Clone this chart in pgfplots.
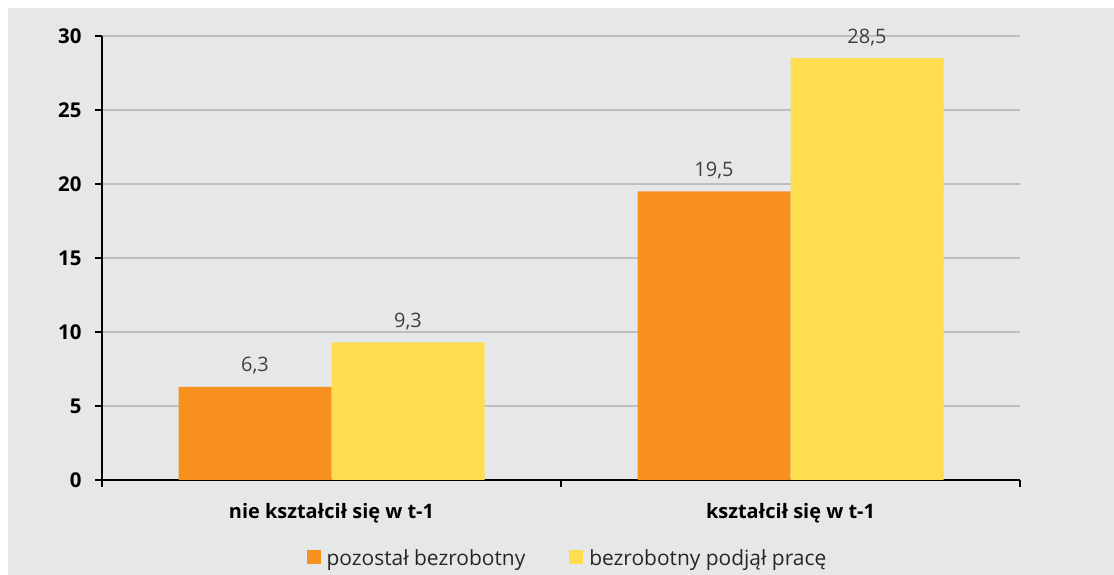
\documentclass[border=0pt]{standalone}
\usepackage{fontspec}
\setmainfont{Open Sans}
\usepackage{pgfplots}
\pgfplotsset{compat=1.18}
\definecolor{bg}{HTML}{E6E7E9}
\definecolor{orange1}{HTML}{F7901E}
\definecolor{yellow1}{HTML}{FFDD50}
\definecolor{gridc}{HTML}{BDBEC0}
\begin{document}
\begin{tikzpicture}
\useasboundingbox (0,0) rectangle (1114bp,575bp);
\fill[white] (0,0) rectangle (1114bp,575bp);
\fill[bg] (8bp,0) rectangle (1114bp,567bp);
\begin{axis}[
  at={(102bp,95bp)}, anchor=south west,
  scale only axis, width=918bp, height=444bp,
  font=\fontsize{20}{24}\selectfont,
  /pgf/number format/assume math mode=true,
  ybar, bar width=0.33333,
  xmin=-0.5, xmax=1.5, ymin=0, ymax=30,
  axis x line=bottom, axis y line=left,
  axis line style={black, line width=2.2bp, -},
  xtick={-0.5,0.5,1.5}, xticklabels={},
  ytick={0,5,...,30},
  tick align=outside,
  major tick length=7bp,
  tick style={black, line width=2bp},
  yticklabel style={font=\fontsize{20.5}{24}\selectfont\bfseries, xshift=-10bp},
  ymajorgrids, grid style={gridc, line width=1.5bp},
  extra x ticks={0,1},
  extra x tick labels={nie kształcił się w t-1, kształcił się w t-1},
  extra x tick style={major tick length=0pt, grid=none,
     tick label style={font=\fontsize{20}{24}\selectfont\bfseries, yshift=-20bp}},
  nodes near coords,
  nodes near coords style={font=\fontsize{20}{24}\selectfont, text=black!75, yshift=9bp,
     /pgf/number format/.cd, use comma, fixed, fixed zerofill, precision=1},
  legend columns=2,
  legend style={at={(0.507,-0.176)}, anchor=center, draw=none, fill=none,
     font=\fontsize{21}{25}\selectfont, text=black!85,
     /tikz/every even column/.append style={column sep=42bp}},
  legend image code/.code={\fill[#1, draw=none] (0bp,-6bp) rectangle (14bp,8bp);
     \path (0bp,0bp) -- (18bp,0bp);},
]
\addplot[fill=orange1, draw=none, bar shift=-0.166667] coordinates {(0,6.3) (1,19.5)};
\addplot[fill=yellow1, draw=none, bar shift=0.166667] coordinates {(0,9.3) (1,28.5)};
\legend{pozostał bezrobotny, bezrobotny podjął pracę}
\end{axis}
\end{tikzpicture}
\end{document}
